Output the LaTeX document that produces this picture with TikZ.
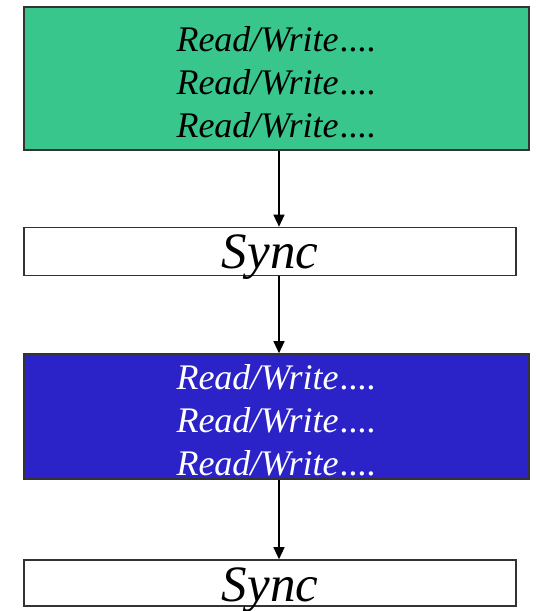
\documentclass[tikz,border=0pt]{standalone}
\usepackage{fontspec}
\setmainfont{Liberation Serif}
\usetikzlibrary{arrows.meta}
\definecolor{phasegreen}{HTML}{38C68C}
\definecolor{phaseblue}{HTML}{2B23C8}
\newcommand{\rwline}{Read/Write\kern2pt....}
\tikzset{
	phase/.style={draw=black!80, line width=1.6pt, inner sep=0pt, align=center,
		minimum width=505pt, minimum height=#1,
		font=\fontsize{36}{43}\selectfont\itshape},
	syncbox/.style={draw=black!80, line width=1.6pt, inner sep=0pt, fill=white,
		minimum width=492pt, minimum height=#1, text depth=0pt,
		font=\fontsize{51}{51}\selectfont\itshape},
	flow/.style={line width=1.2pt, -{Triangle[width=11pt,length=12pt]}}
}

\begin{document}
\begin{tikzpicture}[x=1pt,y=-1pt]
					\useasboundingbox (0,0) rectangle (541,611);
					
					%PHASE 1
					\node[phase=143pt, fill=phasegreen, text=black] (P1) at (276.5,78.5)
						{\rule{0pt}{33pt}\rwline\\\rwline\\\rwline};
					%SYNC 1
					\node[syncbox=48pt, text height=33pt] (S1) at (270,251.5) {Sync};
					%PHASE 2
					\node[phase=125pt, fill=phaseblue, text=white] (P2) at (276.5,416.5)
						{\rule{0pt}{33pt}\rwline\\\rwline\\\rwline};
					%SYNC 2
					\node[syncbox=46pt, text height=36pt] (S2) at (270,583) {Sync};
					
					%ARROWS
					\draw[flow] (P1.south -| 279,0) -- (S1.north -| 279,0);
					\draw[flow] (S1.south -| 279,0) -- (P2.north -| 279,0);
					\draw[flow] (P2.south -| 279,0) -- (S2.north -| 279,0);
					
				  \end{tikzpicture}
\end{document}
